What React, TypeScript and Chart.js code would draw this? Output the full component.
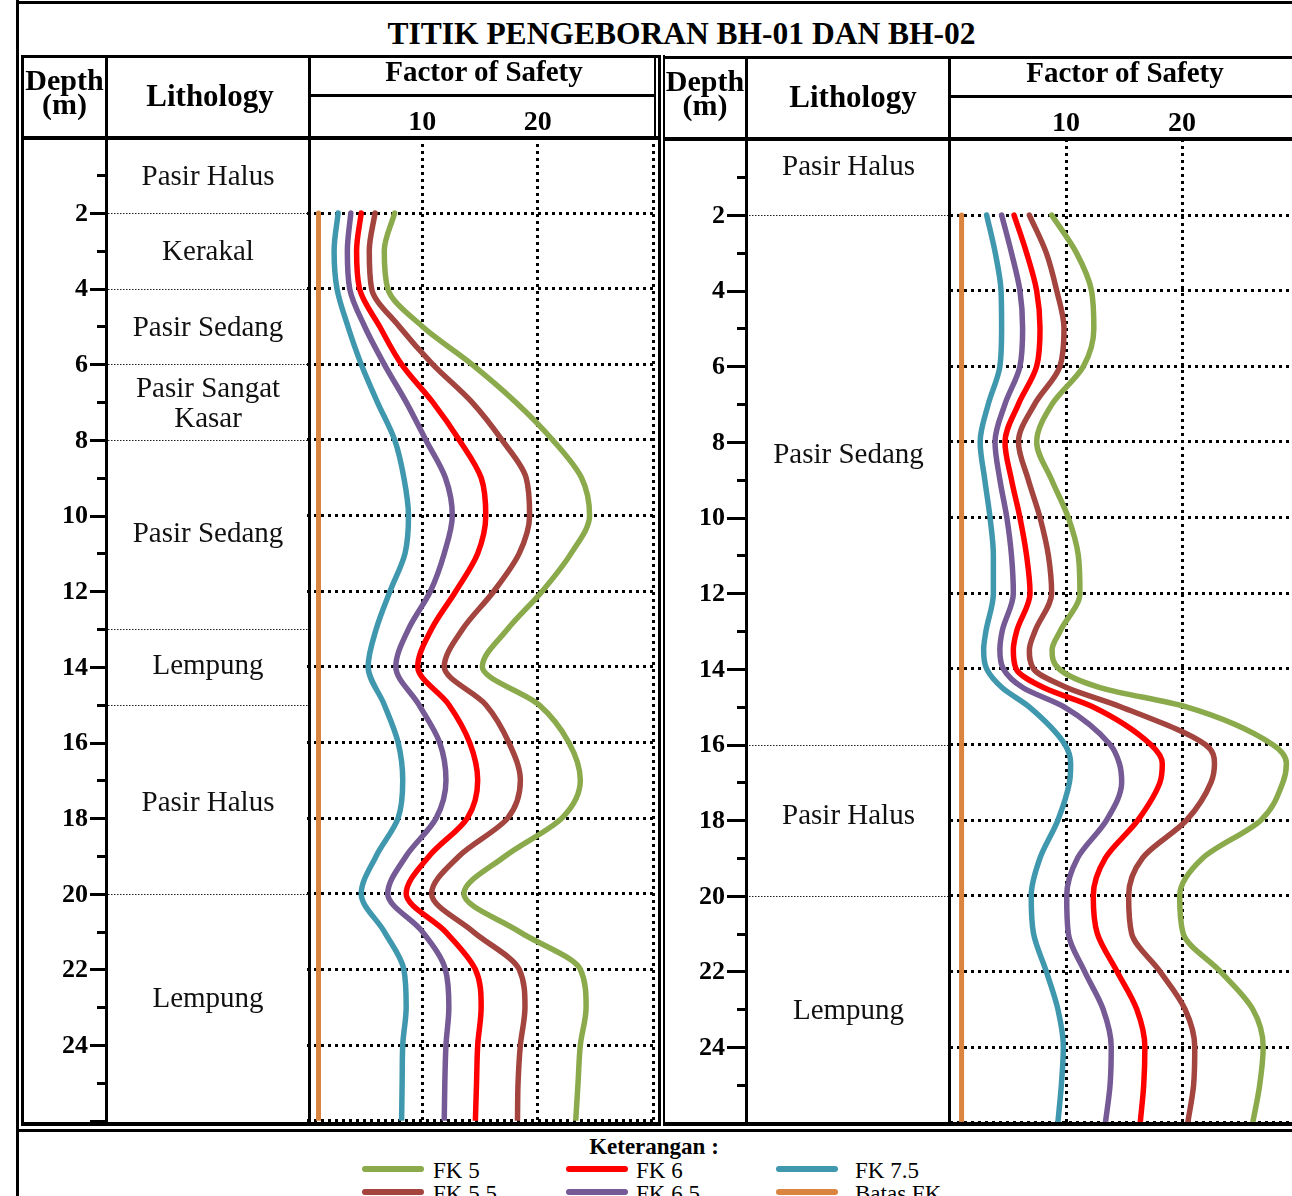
import React, { useEffect, useRef } from 'react';
import { Chart, registerables } from 'chart.js';

Chart.register(...registerables);

const SERIF = '"Liberation Serif", "Times New Roman", serif';

// ---------------- data ----------------
const titleText = 'TITIK PENGEBORAN BH-01 DAN BH-02';
const seriesLabels = ['FK 5', 'FK 5.5', 'FK 6', 'FK 6.5', 'FK 7.5'];
const seriesColors = ['#8aaa4c', '#a4443f', '#ff0000', '#755a95', '#3f98ae'];
const batasLabel = 'Batas FK';
const batasColor = '#d9853f';
const batasDepths = [2, 26];
const batasFK = [1, 1];

const depthTickLabels = ['2', '4', '6', '8', '10', '12', '14', '16', '18', '20', '22', '24'];
const depthMajorTicks = [2, 4, 6, 8, 10, 12, 14, 16, 18, 20, 22, 24, 26];
const depthMinorTicks = [1, 3, 5, 7, 9, 11, 13, 15, 17, 19, 21, 23, 25];
const fsTickLabels = ['10', '20'];
const fsGridValues = [10, 20, 30];

// BH-01
const bh1Depths = [2, 3, 4, 5, 6, 7, 8, 9, 10, 11, 12, 13, 14, 15, 16, 17, 18, 19, 20, 21, 22, 23, 24, 25, 26];
const bh1FK5 = [7.6, 6.7, 7.0, 10.0, 14.3, 18.1, 21.3, 23.8, 24.5, 22.9, 20.4, 17.4, 15.2, 20.1, 22.7, 23.7, 22.1, 17.2, 13.6, 18.4, 23.7, 24.2, 23.7, 23.5, 23.3];
const bh1FK55 = [5.9, 5.4, 5.6, 8.0, 10.9, 14.3, 16.9, 19.0, 19.3, 18.4, 16.2, 13.5, 11.9, 15.5, 17.5, 18.5, 17.4, 13.2, 10.8, 14.4, 18.4, 18.9, 18.5, 18.3, 18.25];
const bh1FK6 = [4.7, 4.3, 4.55, 6.3, 8.2, 10.9, 13.2, 15.1, 15.5, 14.8, 12.9, 10.8, 9.6, 12.3, 14.1, 14.8, 13.9, 10.6, 8.6, 12.0, 14.6, 15.1, 14.8, 14.7, 14.6];
const bh1FK65 = [3.8, 3.5, 3.7, 5.0, 6.7, 8.6, 10.3, 12.0, 12.6, 11.9, 10.7, 8.8, 7.7, 9.7, 11.5, 12.05, 11.2, 8.6, 7.0, 10.0, 12.0, 12.3, 12.05, 11.95, 11.9];
const bh1FK75 = [2.7, 2.35, 2.6, 3.55, 4.7, 6.1, 7.6, 8.4, 8.8, 8.5, 7.2, 6.0, 5.3, 6.7, 7.9, 8.3, 7.9, 6.0, 4.7, 6.7, 8.4, 8.6, 8.3, 8.25, 8.2];
const bh1LayerNames = ['Pasir Halus', 'Kerakal', 'Pasir Sedang', 'Pasir Sangat\nKasar', 'Pasir Sedang', 'Lempung', 'Pasir Halus', 'Lempung'];
const bh1LayerBottoms = [2, 4, 6, 8, 13, 15, 20, 26];
const bh1LabelDepths = [1.05, 3.05, 5.05, 7.05, 10.5, 14.0, 17.6, 22.8];

// BH-02
const bh2Depths = [2, 3, 4, 5, 6, 7, 8, 9, 10, 11, 12, 13, 13.5, 14, 14.5, 15, 16, 16.5, 17, 18, 19, 20, 21, 22, 23, 24, 25, 26];
const bh2FK5 = [8.76, 10.9, 12.2, 12.4, 11.5, 8.8, 7.47, 8.76, 10.2, 11.06, 11.2, 9.5, 8.8, 9.4, 13.0, 20.3, 27.8, 29.0, 28.7, 26.8, 21.8, 19.8, 20.1, 23.3, 26.1, 27.0, 26.7, 26.1];
const bh2FK55 = [6.84, 8.3, 9.2, 9.83, 9.48, 7.3, 5.9, 6.75, 7.76, 8.48, 8.76, 7.33, 6.84, 7.2, 10.1, 14.7, 22.0, 22.8, 22.5, 20.4, 16.6, 15.4, 15.66, 18.1, 20.26, 21.1, 21.0, 20.5];
const bh2FK6 = [5.52, 6.6, 7.47, 7.76, 7.47, 5.9, 4.74, 5.3, 6.03, 6.6, 6.9, 5.75, 5.46, 5.7, 8.1, 12.3, 17.3, 18.3, 18.1, 16.2, 13.4, 12.35, 12.7, 14.4, 16.1, 16.8, 16.7, 16.4];
const bh2FK65 = [4.45, 5.3, 6.03, 6.26, 6.03, 4.74, 3.88, 4.3, 4.9, 5.3, 5.46, 4.5, 4.3, 4.6, 6.3, 9.8, 13.8, 14.6, 14.8, 13.5, 11.0, 10.06, 10.2, 11.6, 13.2, 13.9, 13.8, 13.4];
const bh2FK75 = [3.16, 3.9, 4.4, 4.45, 4.3, 3.3, 2.6, 3.0, 3.45, 3.74, 3.74, 3.1, 2.9, 3.16, 4.5, 6.8, 9.9, 10.4, 10.3, 9.3, 7.76, 7.0, 7.2, 8.3, 9.3, 9.77, 9.6, 9.3];
const bh2LayerNames = ['Pasir Halus', 'Pasir Sedang', 'Pasir Halus', 'Lempung'];
const bh2LayerBottoms = [2, 16, 20, 26];
const bh2LabelDepths = [0.75, 8.35, 17.9, 23.05];

const legendTitle = 'Keterangan :';
const legendLabels = ['FK 5', 'FK 6', 'FK 7.5', 'FK 5.5', 'FK 6.5', 'Batas FK'];
const legendColors = ['#8aaa4c', '#ff0000', '#3f98ae', '#a4443f', '#755a95', '#d9853f'];

// ---------------- chart ----------------
type Decor = {
  majorX0: number; minorX0: number; tickX1: number; labelX: number;
  lithCenterX: number; lithX0: number; lithX1: number; xLabelY: number;
  layerNames: string[]; layerBottoms: number[]; labelDepths: number[];
};

function decorPlugin(d: Decor) {
  return {
    id: 'boreholeDecor',
    afterDraw(chart: any) {
      const ctx = chart.ctx;
      const ys = chart.scales.y;
      const xs = chart.scales.x;
      ctx.save();
      ctx.fillStyle = '#000';
      ctx.strokeStyle = '#000';
      ctx.lineWidth = 3;
      ctx.setLineDash([]);
      depthMajorTicks.forEach((v) => {
        const p = Math.round(ys.getPixelForValue(v)) + 0.5;
        ctx.beginPath(); ctx.moveTo(d.majorX0, p); ctx.lineTo(d.tickX1, p); ctx.stroke();
      });
      depthMinorTicks.forEach((v) => {
        const p = Math.round(ys.getPixelForValue(v)) + 0.5;
        ctx.beginPath(); ctx.moveTo(d.minorX0, p); ctx.lineTo(d.tickX1, p); ctx.stroke();
      });
      ctx.font = `bold 26px ${SERIF}`;
      ctx.textAlign = 'right';
      ctx.textBaseline = 'middle';
      depthTickLabels.forEach((t) => {
        ctx.fillText(t, d.labelX, ys.getPixelForValue(parseFloat(t)) + 1);
      });
      // lithology boundaries
      ctx.lineWidth = 1.2;
      ctx.strokeStyle = '#222';
      ctx.setLineDash([1.5, 1.5]);
      d.layerBottoms.slice(0, -1).forEach((v) => {
        const p = Math.round(ys.getPixelForValue(v)) + 0.5;
        ctx.beginPath(); ctx.moveTo(d.lithX0, p); ctx.lineTo(d.lithX1, p); ctx.stroke();
      });
      ctx.setLineDash([]);
      ctx.font = `29px ${SERIF}`;
      ctx.textAlign = 'center';
      ctx.textBaseline = 'middle';
      ctx.fillStyle = '#111';
      d.layerNames.forEach((name, i) => {
        const lines = name.split('\n');
        const c = ys.getPixelForValue(d.labelDepths[i]);
        lines.forEach((ln, k) => {
          ctx.fillText(ln, d.lithCenterX, c + (k - (lines.length - 1) / 2) * 30);
        });
      });
      ctx.fillStyle = '#000';
      ctx.font = `bold 28px ${SERIF}`;
      ctx.textBaseline = 'alphabetic';
      fsTickLabels.forEach((t) => {
        ctx.fillText(t, xs.getPixelForValue(parseFloat(t)), d.xLabelY);
      });
      ctx.restore();
    },
  };
}

type PanelProps = {
  left: number; top: number; width: number; height: number;
  padding: { left: number; top: number; right: number; bottom: number };
  depths: number[]; series: number[][]; decor: Decor;
};

function BoreholeChart(p: PanelProps) {
  const ref = useRef<HTMLCanvasElement>(null);
  useEffect(() => {
    const canvas = ref.current;
    if (!canvas) return;
    const datasets: any[] = p.series.map((vals, i) => ({
      label: seriesLabels[i],
      data: p.depths.map((dep, j) => ({ x: vals[j], y: dep })),
      borderColor: seriesColors[i],
      backgroundColor: seriesColors[i],
      borderWidth: 5.5,
      cubicInterpolationMode: 'monotone',
      borderCapStyle: 'round',
      borderJoinStyle: 'round',
      pointRadius: 0,
      fill: false,
    }));
    datasets.push({
      label: batasLabel,
      data: batasDepths.map((dep, j) => ({ x: batasFK[j], y: dep })),
      borderColor: batasColor,
      backgroundColor: batasColor,
      borderWidth: 5,
      borderCapStyle: 'round',
      pointRadius: 0,
      fill: false,
    });
    const chart = new Chart(canvas, {
      type: 'line',
      data: { datasets },
      options: {
        animation: false,
        responsive: false,
        indexAxis: 'y',
        layout: { padding: p.padding },
        plugins: { legend: { display: false }, tooltip: { enabled: false }, title: { display: false } },
        elements: { point: { radius: 0 } },
        scales: {
          x: {
            type: 'linear',
            position: 'top',
            min: 0,
            max: 30,
            afterFit: (s: any) => { s.height = 0; },
            afterBuildTicks: (s: any) => { s.ticks = fsGridValues.map((v) => ({ value: v })); },
            ticks: { display: false },
            grid: { color: '#000', lineWidth: 3, drawTicks: false },
            border: { display: false, dash: [3, 4] },
          },
          y: {
            type: 'linear',
            reverse: true,
            min: 0,
            max: 26,
            afterFit: (s: any) => { s.width = 0; },
            ticks: { display: false, stepSize: 2 },
            grid: {
              color: (c: any) => (c.tick && c.tick.value === 0 ? 'rgba(0,0,0,0)' : '#000'),
              lineWidth: 3,
              drawTicks: false,
            },
            border: { display: false, dash: [3, 4] },
          },
        },
      } as any,
      plugins: [decorPlugin(p.decor)],
    });
    return () => chart.destroy();
  }, []);
  return (
    <canvas
      ref={ref}
      width={p.width}
      height={p.height}
      style={{ position: 'absolute', left: p.left, top: p.top, width: p.width, height: p.height }}
    />
  );
}

// ---------------- layout helpers ----------------
function Rule(props: { l: number; t: number; w: number; h: number }) {
  return <div style={{ position: 'absolute', left: props.l, top: props.t, width: props.w, height: props.h, background: '#000' }} />;
}

function Txt(props: { text: string; cx: number; base: number; size: number; bold?: boolean; left?: boolean }) {
  const top = props.base - 0.8375 * props.size;
  const style: any = {
    position: 'absolute',
    top,
    fontFamily: SERIF,
    fontSize: props.size,
    lineHeight: `${props.size}px`,
    fontWeight: props.bold ? 'bold' : 'normal',
    whiteSpace: 'nowrap',
    color: '#000',
  };
  if (props.left) {
    style.left = props.cx;
  } else {
    style.left = props.cx - 300;
    style.width = 600;
    style.textAlign = 'center';
  }
  return <div style={style}>{props.text}</div>;
}

export default function App() {
  const legendCols = [362, 566, 776];
  const legendTextX = [433, 636, 855];
  const legendRowY = [1169, 1192];
  return (
    <div style={{ position: 'absolute', left: 0, top: 0, width: 1292, height: 1196, overflow: 'hidden', background: '#fff' }}>
      <BoreholeChart
        left={22} top={57} width={638} height={1067}
        padding={{ left: 285, top: 80.4, right: 7, bottom: 3.3 }}
        depths={bh1Depths}
        series={[bh1FK5, bh1FK55, bh1FK6, bh1FK65, bh1FK75]}
        decor={{
          majorX0: 68, minorX0: 75, tickX1: 84, labelX: 66,
          lithCenterX: 186, lithX0: 86, lithX1: 286, xLabelY: 73,
          layerNames: bh1LayerNames, layerBottoms: bh1LayerBottoms, labelDepths: bh1LabelDepths,
        }}
      />
      <BoreholeChart
        left={662} top={57} width={642} height={1069}
        padding={{ left: 288, top: 82.4, right: 6, bottom: 3.3 }}
        depths={bh2Depths}
        series={[bh2FK5, bh2FK55, bh2FK6, bh2FK65, bh2FK75]}
        decor={{
          majorX0: 65, minorX0: 75, tickX1: 84, labelX: 63,
          lithCenterX: 186.5, lithX0: 87, lithX1: 286, xLabelY: 74,
          layerNames: bh2LayerNames, layerBottoms: bh2LayerBottoms, labelDepths: bh2LabelDepths,
        }}
      />

      {/* outer frame */}
      <Rule l={16} t={0} w={3} h={1196} />
      <Rule l={16} t={1} w={1276} h={3} />
      <Rule l={16} t={1129} w={1276} h={3} />

      {/* left panel */}
      <Rule l={21} t={55} w={3} h={1071} />
      <Rule l={21} t={55} w={640} h={3} />
      <Rule l={654} t={55} w={2} h={85} />
      <Rule l={658} t={55} w={3} h={1071} />
      <Rule l={105} t={55} w={3} h={1071} />
      <Rule l={308} t={55} w={3} h={1071} />
      <Rule l={308} t={94} w={348} h={3} />
      <Rule l={21} t={136} w={640} h={4} />
      <Rule l={21} t={1122} w={640} h={4} />

      {/* right panel */}
      <Rule l={663} t={55} w={2} h={1071} />
      <Rule l={663} t={56} w={640} h={3} />
      <Rule l={745} t={56} w={3} h={1070} />
      <Rule l={948} t={56} w={3} h={1070} />
      <Rule l={948} t={95} w={360} h={3} />
      <Rule l={663} t={137} w={640} h={4} />
      <Rule l={663} t={1122} w={640} h={4} />

      {/* header texts */}
      <Txt text={titleText} cx={681.5} base={44} size={31.5} bold />
      <Txt text="Depth" cx={64.5} base={90} size={30} bold />
      <Txt text="(m)" cx={64.5} base={114} size={30} bold />
      <Txt text="Lithology" cx={210} base={106} size={31} bold />
      <Txt text="Factor of Safety" cx={484} base={81} size={29} bold />
      <Txt text="Depth" cx={705} base={91} size={30} bold />
      <Txt text="(m)" cx={705} base={115} size={30} bold />
      <Txt text="Lithology" cx={853} base={107} size={31} bold />
      <Txt text="Factor of Safety" cx={1125} base={82} size={29} bold />

      {/* legend */}
      <Txt text={legendTitle} cx={654} base={1154} size={23} bold />
      {legendLabels.map((lab, i) => {
        const col = i % 3;
        const row = Math.floor(i / 3);
        const cy = legendRowY[row];
        return (
          <React.Fragment key={lab}>
            <div style={{ position: 'absolute', left: legendCols[col], top: cy - 3, width: 62, height: 6, borderRadius: 3, background: legendColors[i] }} />
            <Txt text={lab} cx={legendTextX[col]} base={cy + 9} size={23} left />
          </React.Fragment>
        );
      })}
    </div>
  );
}
